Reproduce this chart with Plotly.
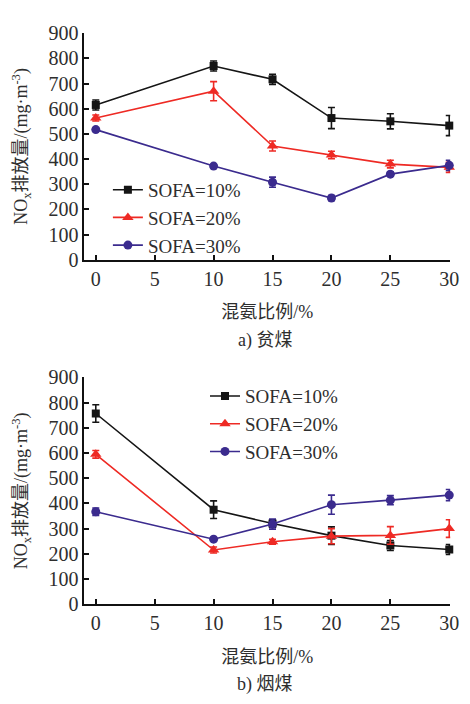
import plotly.graph_objects as go

x_vals = [0, 10, 15, 20, 25, 30]

# a) 贫煤
a_sofa10 = [615, 770, 717, 563, 550, 533]
a_sofa10_err = [20, 20, 20, 42, 30, 40]
a_sofa20 = [563, 670, 452, 416, 380, 367]
a_sofa20_err = [12, 38, 20, 15, 15, 20]
a_sofa30 = [517, 372, 308, 245, 340, 375]
a_sofa30_err = [6, 6, 20, 10, 8, 20]

# b) 烟煤
b_sofa10 = [757, 375, 320, 272, 233, 217]
b_sofa10_err = [35, 35, 15, 35, 20, 20]
b_sofa20 = [595, 215, 248, 270, 273, 300]
b_sofa20_err = [15, 12, 10, 30, 35, 35]
b_sofa30 = [367, 258, 318, 395, 413, 433]
b_sofa30_err = [15, 6, 20, 38, 18, 22]

series_names = ["SOFA=10%", "SOFA=20%", "SOFA=30%"]
colors = ["#151515", "#ee2a24", "#3b2b8e"]
symbols = ["square", "triangle-up", "circle"]
msizes = [8, 10, 9]

x_ticks = [0, 5, 10, 15, 20, 25, 30]
y_ticks = [0, 100, 200, 300, 400, 500, 600, 700, 800, 900]

W, H = 470, 704
FONT = "Liberation Serif, Times New Roman, Noto Sans CJK SC, serif"
TXT = "#2e2e2e"

fig = go.Figure()

panels = [
    ("x", "y", "legend", [a_sofa10, a_sofa20, a_sofa30], [a_sofa10_err, a_sofa20_err, a_sofa30_err]),
    ("x2", "y2", "legend2", [b_sofa10, b_sofa20, b_sofa30], [b_sofa10_err, b_sofa20_err, b_sofa30_err]),
]
for xa, ya, lg, ys, errs in panels:
    for i in range(3):
        fig.add_trace(go.Scatter(
            x=x_vals, y=ys[i], name=series_names[i], mode="lines+markers",
            xaxis=xa, yaxis=ya, legend=lg, cliponaxis=False,
            line=dict(color=colors[i], width=1.6),
            marker=dict(symbol=symbols[i], size=msizes[i], color=colors[i]),
            error_y=dict(type="data", array=errs[i], visible=True,
                         color=colors[i], thickness=1.6, width=3.5),
        ))

def px_x(p):
    return p / W

def px_y(p):
    return 1 - p / H

xdom = [px_x(86), px_x(459)]
xrange_ = [-0.97, 30.08]

axis_common = dict(
    showline=True, linecolor="#111111", linewidth=1.8, ticks="inside",
    ticklen=5, tickwidth=1.6, tickcolor="#111111", showgrid=False, zeroline=False,
    tickfont=dict(family=FONT, size=20, color=TXT), mirror=False,
)
title_font = dict(family=FONT, size=18, color=TXT)

fig.update_layout(
    width=W, height=H, margin=dict(l=0, r=0, t=0, b=0),
    paper_bgcolor="white", plot_bgcolor="white",
    showlegend=True,
    xaxis=dict(domain=xdom, range=xrange_, tickvals=x_ticks, anchor="y",
               title=dict(text="混氨比例/%", font=title_font, standoff=17),
               **axis_common),
    yaxis=dict(domain=[px_y(256.7), px_y(23)], range=[0, 900], tickvals=y_ticks, anchor="x",
               title=dict(text="NO<sub>x</sub>排放量/(mg·m<sup>-3</sup>)", font=title_font, standoff=16),
               **axis_common),
    xaxis2=dict(domain=xdom, range=xrange_, tickvals=x_ticks, anchor="y2",
                title=dict(text="混氨比例/%", font=title_font, standoff=17),
                **axis_common),
    yaxis2=dict(domain=[px_y(612.3), px_y(378.3)], range=[0, 900], tickvals=y_ticks, anchor="x2",
                title=dict(text="NO<sub>x</sub>排放量/(mg·m<sup>-3</sup>)", font=title_font, standoff=16),
                **axis_common),
    legend=dict(x=px_x(110), y=px_y(165), xanchor="left", yanchor="top",
                bgcolor="rgba(0,0,0,0)", font=dict(family=FONT, size=19, color=TXT),
                tracegroupgap=0, itemsizing="trace"),
    legend2=dict(x=px_x(209), y=px_y(378), xanchor="left", yanchor="top",
                 bgcolor="rgba(0,0,0,0)", font=dict(family=FONT, size=19, color=TXT),
                 tracegroupgap=0, itemsizing="trace"),
    annotations=[
        dict(text="a) 贫煤", x=px_x(270), y=px_y(340), xref="paper", yref="paper",
             showarrow=False, font=title_font, xanchor="center", yanchor="middle"),
        dict(text="b) 烟煤", x=px_x(270), y=px_y(695), xref="paper", yref="paper",
             showarrow=False, font=title_font, xanchor="center", yanchor="middle"),
    ],
)

fig.write_html("out.html")
